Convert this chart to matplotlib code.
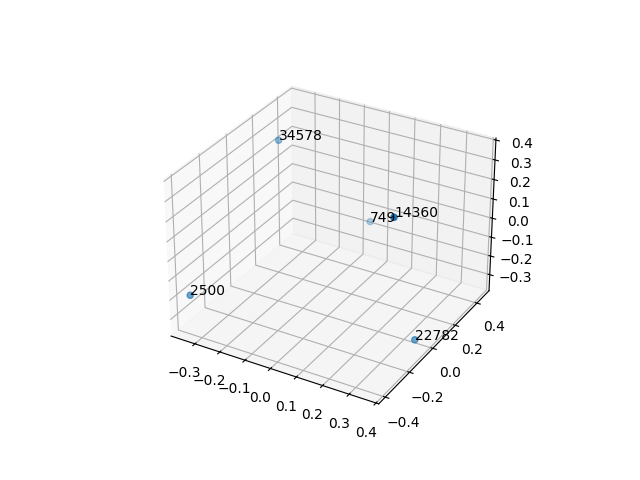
import matplotlib
matplotlib.use("Agg")
import matplotlib.pyplot as plt

labels = ["2500", "34578", "749", "14360", "22782"]
xs = [-0.351, -0.316, -0.051, 0.324, 0.341]
ys = [-0.384, 0.247, 0.469, -0.160, 0.0]
zs = [-0.194, 0.284, -0.165, 0.335, -0.371]

fig = plt.figure(figsize=(6.4, 4.8), dpi=100)
ax = fig.add_subplot(projection="3d")
ax.scatter(xs, ys, zs)
for x, y, z, t in zip(xs, ys, zs, labels):
    ax.text(x, y, z, t)
ax.set_xlim(-0.397, 0.41)
ax.set_ylim(-0.453, 0.515)
ax.set_zlim(-0.387, 0.41)
fig.savefig("out.png", dpi=100)
